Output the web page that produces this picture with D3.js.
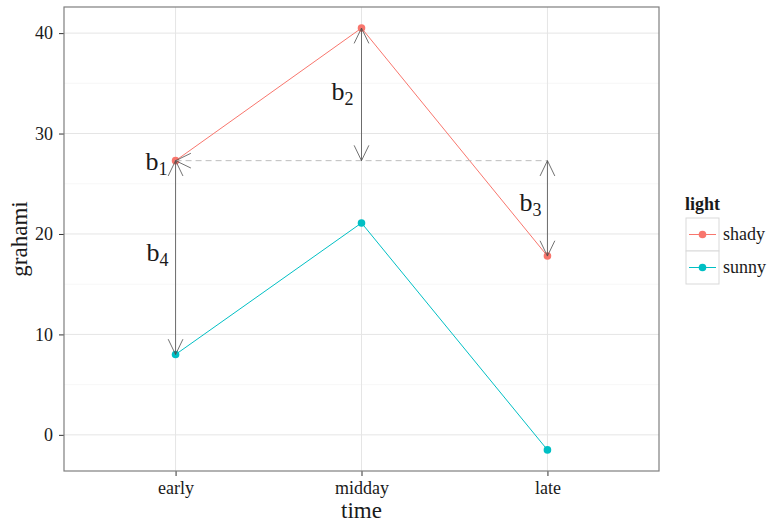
<!DOCTYPE html>
<html>
<head>
<meta charset="utf-8">
<script src="https://cdn.jsdelivr.net/npm/d3@7"></script>
<style>
  body { margin: 0; background: #fff; }
  text { font-family: "Liberation Serif", "DejaVu Serif", serif; fill: #1a1a1a; }
</style>
</head>
<body>
<div id="chart"></div>
<script>
// data
var times = ["early", "midday", "late"];
var shady = [27.3, 40.5, 17.8];
var sunny = [8.0, 21.1, -1.5];
var yTicks = [0, 10, 20, 30, 40];
var yMinor = [5, 15, 25, 35];

var svgWidth = 774, svgHeight = 525;
var margin = { top: 7, right: 115, bottom: 54, left: 64 };
var width = svgWidth - margin.left - margin.right;
var height = svgHeight - margin.top - margin.bottom;

var svg = d3.select("#chart").append("svg")
  .attr("width", svgWidth)
  .attr("height", svgHeight);

var g = svg.append("g")
  .attr("transform", `translate(${margin.left},${margin.top})`);

// scales (ggplot style expansion)
var xScale = d3.scalePoint().domain(times).range([0, width]).padding(0.6);
var allY = shady.concat(sunny);
var yMin = d3.min(allY), yMax = d3.max(allY), pad = (yMax - yMin) * 0.05;
var yScale = d3.scaleLinear().domain([yMin - pad, yMax + pad]).range([height, 0]);

// grid
g.selectAll(".minor").data(yMinor).enter().append("line")
  .attr("x1", 0).attr("x2", width)
  .attr("y1", d => yScale(d)).attr("y2", d => yScale(d))
  .attr("stroke", "#f2f2f2").attr("stroke-width", 0.6);
g.selectAll(".major").data(yTicks).enter().append("line")
  .attr("x1", 0).attr("x2", width)
  .attr("y1", d => yScale(d)).attr("y2", d => yScale(d))
  .attr("stroke", "#e5e5e5").attr("stroke-width", 1);
g.selectAll(".vmajor").data(times).enter().append("line")
  .attr("y1", 0).attr("y2", height)
  .attr("x1", d => xScale(d)).attr("x2", d => xScale(d))
  .attr("stroke", "#e5e5e5").attr("stroke-width", 1);

// axes
var xAxis = g.append("g").attr("transform", `translate(0,${height})`)
  .call(d3.axisBottom(xScale).tickSize(5).tickPadding(5));
var yAxis = g.append("g")
  .call(d3.axisLeft(yScale).tickValues(yTicks).tickSize(5).tickPadding(6));
[xAxis, yAxis].forEach(a => {
  a.select(".domain").remove();
  a.selectAll(".tick line").attr("stroke", "#333");
  a.selectAll(".tick text").style("font-size", "18px").attr("fill", "#1a1a1a");
});

// panel border
g.append("rect").attr("width", width).attr("height", height)
  .attr("fill", "none").attr("stroke", "#7f7f7f").attr("stroke-width", 1.2);

// lines and points
var series = [
  { name: "shady", values: shady, color: "#F8766D" },
  { name: "sunny", values: sunny, color: "#00BFC4" }
];
var line = d3.line().x((d, i) => xScale(times[i])).y(d => yScale(d));
series.forEach(s => {
  g.append("path").datum(s.values).attr("d", line)
    .attr("fill", "none").attr("stroke", s.color).attr("stroke-width", 1);
  g.selectAll(".pt-" + s.name).data(s.values).enter().append("circle")
    .attr("cx", (d, i) => xScale(times[i])).attr("cy", d => yScale(d))
    .attr("r", 3.8).attr("fill", s.color);
});

// arrows (open heads)
var arrowColor = "#4d4d4d";
function head(x, y, angle) {
  var len = 17, spread = Math.PI / 7;
  [angle - spread, angle + spread].forEach(a => {
    g.append("line").attr("x1", x).attr("y1", y)
      .attr("x2", x + len * Math.cos(a)).attr("y2", y + len * Math.sin(a))
      .attr("stroke", arrowColor).attr("stroke-width", 0.8);
  });
}
function vArrow(t, a, b) {
  var x = xScale(t), y1 = yScale(a), y2 = yScale(b);
  g.append("line").attr("x1", x).attr("x2", x).attr("y1", y1).attr("y2", y2)
    .attr("stroke", arrowColor).attr("stroke-width", 0.8);
  var dir = y2 > y1 ? 1 : -1;
  head(x, y1, dir > 0 ? Math.PI / 2 : -Math.PI / 2);
  head(x, y2, dir > 0 ? -Math.PI / 2 : Math.PI / 2);
}

// dashed reference line from baseline
var base = shady[0];
g.append("line")
  .attr("x1", xScale("early")).attr("x2", xScale("late"))
  .attr("y1", yScale(base)).attr("y2", yScale(base))
  .attr("stroke", "#bdbdbd").attr("stroke-width", 1).attr("stroke-dasharray", "6,4");
head(xScale("early"), yScale(base), 0);

vArrow("early", shady[0], sunny[0]);
vArrow("midday", shady[1], base);
vArrow("late", base, shady[2]);

// labels b1..b4
var labels = [
  { t: "early", v: base, sub: "1", dx: -8, dy: 9 },
  { t: "midday", v: (shady[1] + base) / 2, sub: "2", dx: -8, dy: 6 },
  { t: "late", v: (base + shady[2]) / 2, sub: "3", dx: -6, dy: 3 },
  { t: "early", v: (shady[0] + sunny[0]) / 2, sub: "4", dx: -7, dy: 3 }
];
labels.forEach(l => {
  var txt = g.append("text")
    .attr("x", xScale(l.t) + l.dx).attr("y", yScale(l.v) + l.dy)
    .attr("text-anchor", "end").style("font-size", "26px");
  txt.append("tspan").text("b");
  txt.append("tspan").attr("dy", 5).style("font-size", "18px").text(l.sub);
});

// axis titles
svg.append("text").attr("x", margin.left + width / 2).attr("y", 518)
  .attr("text-anchor", "middle").style("font-size", "23px").text("time");
svg.append("text")
  .attr("transform", `translate(27,${margin.top + height / 2}) rotate(-90)`)
  .attr("text-anchor", "middle").style("font-size", "23px").text("grahami");

// legend
var lg = svg.append("g").attr("transform", "translate(686,194)");
lg.append("text").attr("x", -1).attr("y", 16).style("font-size", "18px")
  .style("font-weight", "bold").text("light");
series.forEach((s, i) => {
  var k = lg.append("g").attr("transform", `translate(0,${24 + i * 33})`);
  k.append("rect").attr("width", 33).attr("height", 33)
    .attr("fill", "#fff").attr("stroke", "#d9d9d9").attr("stroke-width", 1);
  k.append("line").attr("x1", 3).attr("x2", 30).attr("y1", 16.5).attr("y2", 16.5)
    .attr("stroke", s.color).attr("stroke-width", 1);
  k.append("circle").attr("cx", 16.5).attr("cy", 16.5).attr("r", 3.8).attr("fill", s.color);
  k.append("text").attr("x", 37).attr("y", 22).style("font-size", "18px").text(s.name);
});
</script>
</body>
</html>
